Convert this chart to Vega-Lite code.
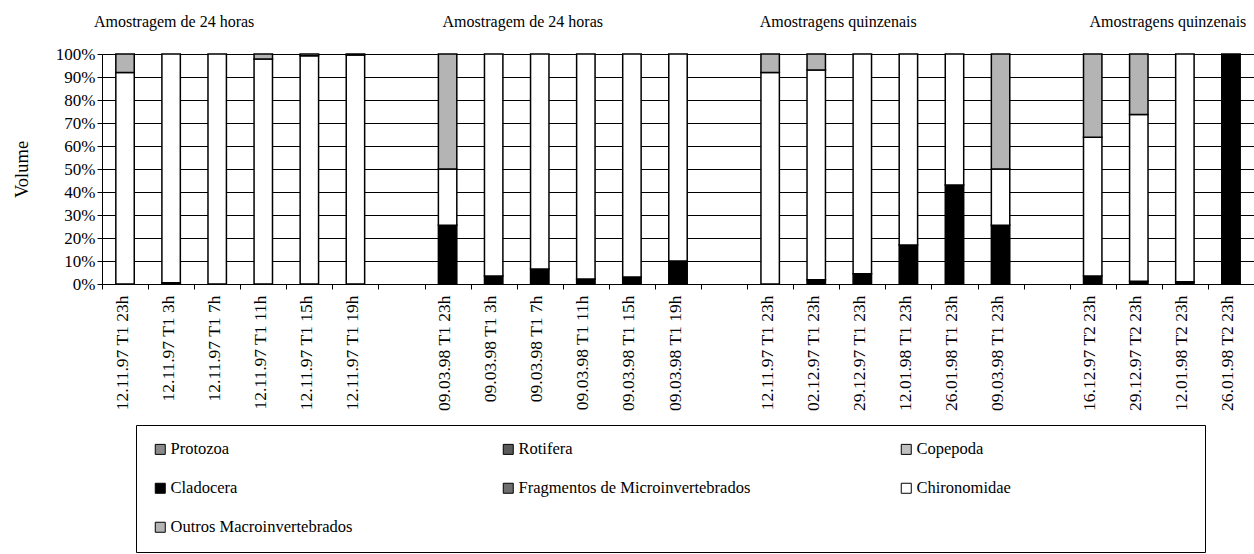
{
  "$schema": "https://vega.github.io/schema/vega-lite/v6.json",
  "autosize": {"type": "none"},
  "padding": {"left": 102, "top": 54, "right": 0, "bottom": 270},
  "width": 1152,
  "height": 230,
  "background": "white",
  "config": {
    "font": "Liberation Serif",
    "view": {"stroke": null},
    "axisY": {
      "format": ".0%",
      "titleFont": "Liberation Serif",
      "titleFontSize": 18.5,
      "titleFontWeight": "normal",
      "titleColor": "black",
      "titlePadding": 24,
      "labelFont": "Liberation Serif",
      "labelFontSize": 17,
      "labelColor": "black",
      "labelPadding": 2,
      "labelFlush": false,
      "labelOverlap": false,
      "tickColor": "black",
      "tickSize": 5,
      "domainColor": "black",
      "grid": true,
      "gridColor": "black",
      "gridWidth": 1,
      "gridOpacity": 1
    }
  },
  "resolve": {"scale": {"y": "independent"}, "axis": {"y": "independent"}},
  "datasets": {
    "volume": [
      {"amostra": "12.11.97 T1 23h", "taxon": "Chironomidae", "serie": 6, "volume": 92},
      {"amostra": "12.11.97 T1 23h", "taxon": "Outros Macroinvertebrados", "serie": 7, "volume": 8},
      {"amostra": "12.11.97 T1 3h", "taxon": "Cladocera", "serie": 4, "volume": 0.5},
      {"amostra": "12.11.97 T1 3h", "taxon": "Chironomidae", "serie": 6, "volume": 99.5},
      {"amostra": "12.11.97 T1 7h", "taxon": "Chironomidae", "serie": 6, "volume": 100},
      {"amostra": "12.11.97 T1 11h", "taxon": "Chironomidae", "serie": 6, "volume": 97.8},
      {"amostra": "12.11.97 T1 11h", "taxon": "Outros Macroinvertebrados", "serie": 7, "volume": 2.2},
      {"amostra": "12.11.97 T1 15h", "taxon": "Chironomidae", "serie": 6, "volume": 99.2},
      {"amostra": "12.11.97 T1 15h", "taxon": "Outros Macroinvertebrados", "serie": 7, "volume": 0.8},
      {"amostra": "12.11.97 T1 19h", "taxon": "Chironomidae", "serie": 6, "volume": 99.6},
      {"amostra": "12.11.97 T1 19h", "taxon": "Outros Macroinvertebrados", "serie": 7, "volume": 0.4},
      {"amostra": "09.03.98 T1 23h", "taxon": "Cladocera", "serie": 4, "volume": 25.5},
      {"amostra": "09.03.98 T1 23h", "taxon": "Chironomidae", "serie": 6, "volume": 24.5},
      {"amostra": "09.03.98 T1 23h", "taxon": "Outros Macroinvertebrados", "serie": 7, "volume": 50},
      {"amostra": "09.03.98 T1 3h", "taxon": "Cladocera", "serie": 4, "volume": 3.5},
      {"amostra": "09.03.98 T1 3h", "taxon": "Chironomidae", "serie": 6, "volume": 96.5},
      {"amostra": "09.03.98 T1 7h", "taxon": "Cladocera", "serie": 4, "volume": 6.5},
      {"amostra": "09.03.98 T1 7h", "taxon": "Chironomidae", "serie": 6, "volume": 93.5},
      {"amostra": "09.03.98 T1 11h", "taxon": "Cladocera", "serie": 4, "volume": 2.2},
      {"amostra": "09.03.98 T1 11h", "taxon": "Chironomidae", "serie": 6, "volume": 97.8},
      {"amostra": "09.03.98 T1 15h", "taxon": "Cladocera", "serie": 4, "volume": 3},
      {"amostra": "09.03.98 T1 15h", "taxon": "Chironomidae", "serie": 6, "volume": 97},
      {"amostra": "09.03.98 T1 19h", "taxon": "Cladocera", "serie": 4, "volume": 10},
      {"amostra": "09.03.98 T1 19h", "taxon": "Chironomidae", "serie": 6, "volume": 90},
      {"amostra": "12.11.97 T1 23h ", "taxon": "Chironomidae", "serie": 6, "volume": 92},
      {"amostra": "12.11.97 T1 23h ", "taxon": "Outros Macroinvertebrados", "serie": 7, "volume": 8},
      {"amostra": "02.12.97 T1 23h", "taxon": "Cladocera", "serie": 4, "volume": 1.8},
      {"amostra": "02.12.97 T1 23h", "taxon": "Chironomidae", "serie": 6, "volume": 91.2},
      {"amostra": "02.12.97 T1 23h", "taxon": "Outros Macroinvertebrados", "serie": 7, "volume": 7},
      {"amostra": "29.12.97 T1 23h", "taxon": "Cladocera", "serie": 4, "volume": 4.5},
      {"amostra": "29.12.97 T1 23h", "taxon": "Chironomidae", "serie": 6, "volume": 95.5},
      {"amostra": "12.01.98 T1 23h", "taxon": "Cladocera", "serie": 4, "volume": 17},
      {"amostra": "12.01.98 T1 23h", "taxon": "Chironomidae", "serie": 6, "volume": 83},
      {"amostra": "26.01.98 T1 23h", "taxon": "Cladocera", "serie": 4, "volume": 43},
      {"amostra": "26.01.98 T1 23h", "taxon": "Chironomidae", "serie": 6, "volume": 57},
      {"amostra": "09.03.98 T1 23h ", "taxon": "Cladocera", "serie": 4, "volume": 25.5},
      {"amostra": "09.03.98 T1 23h ", "taxon": "Chironomidae", "serie": 6, "volume": 24.5},
      {"amostra": "09.03.98 T1 23h ", "taxon": "Outros Macroinvertebrados", "serie": 7, "volume": 50},
      {"amostra": "16.12.97 T2 23h", "taxon": "Cladocera", "serie": 4, "volume": 3.5},
      {"amostra": "16.12.97 T2 23h", "taxon": "Chironomidae", "serie": 6, "volume": 60.3},
      {"amostra": "16.12.97 T2 23h", "taxon": "Outros Macroinvertebrados", "serie": 7, "volume": 36.2},
      {"amostra": "29.12.97 T2 23h", "taxon": "Cladocera", "serie": 4, "volume": 1.2},
      {"amostra": "29.12.97 T2 23h", "taxon": "Chironomidae", "serie": 6, "volume": 72.5},
      {"amostra": "29.12.97 T2 23h", "taxon": "Outros Macroinvertebrados", "serie": 7, "volume": 26.3},
      {"amostra": "12.01.98 T2 23h", "taxon": "Cladocera", "serie": 4, "volume": 1},
      {"amostra": "12.01.98 T2 23h", "taxon": "Chironomidae", "serie": 6, "volume": 99},
      {"amostra": "26.01.98 T2 23h", "taxon": "Cladocera", "serie": 4, "volume": 100}
    ],
    "titulos": [
      {"amostra": "12.11.97 T1 3h", "titulo": "Amostragem de 24 horas"},
      {"amostra": "09.03.98 T1 7h", "titulo": "Amostragem de 24 horas"},
      {"amostra": "02.12.97 T1 23h", "titulo": "Amostragens quinzenais"},
      {"amostra": "12.01.98 T2 23h", "titulo": "Amostragens quinzenais"}
    ]
  },
  "encoding": {
    "x": {
      "field": "amostra",
      "type": "nominal",
      "title": null,
      "scale": {
        "domain": ["12.11.97 T1 23h", "12.11.97 T1 3h", "12.11.97 T1 7h", "12.11.97 T1 11h", "12.11.97 T1 15h", "12.11.97 T1 19h", "gap1",
                   "09.03.98 T1 23h", "09.03.98 T1 3h", "09.03.98 T1 7h", "09.03.98 T1 11h", "09.03.98 T1 15h", "09.03.98 T1 19h", "gap2",
                   "12.11.97 T1 23h ", "02.12.97 T1 23h", "29.12.97 T1 23h", "12.01.98 T1 23h", "26.01.98 T1 23h", "09.03.98 T1 23h ", "gap3",
                   "16.12.97 T2 23h", "29.12.97 T2 23h", "12.01.98 T2 23h", "26.01.98 T2 23h"],
        "paddingInner": 0,
        "paddingOuter": 0
      },
      "axis": {
        "labelAngle": 270,
        "labelFontSize": 17.5,
        "labelFont": "Liberation Serif",
        "labelColor": "black",
        "labelPadding": 6,
        "labelOffset": -3,
        "tickBand": "extent",
        "tickColor": "black",
        "tickSize": 5,
        "domainColor": "black",
        "labelExpr": "indexof(datum.label, 'gap') == 0 ? '' : trim(datum.label)",
        "labelOverlap": false,
        "labelLimit": 300,
        "grid": false
      }
    }
  },
  "layer": [
    {
      "data": {"name": "volume"},
      "mark": {"type": "bar", "stroke": "black", "strokeWidth": 1.5, "width": {"band": 0.4}},
      "encoding": {
        "y": {
          "field": "volume",
          "type": "quantitative",
          "stack": "normalize",
          "title": "Volume",
          "scale": {"domain": [0, 1], "nice": false},
          "axis": {"values": [0, 0.1, 0.2, 0.3, 0.4, 0.5, 0.6, 0.7, 0.8, 0.9, 1], "tickCount": 11}
        },
        "color": {
          "field": "taxon",
          "type": "nominal",
          "scale": {
            "domain": ["Protozoa", "Rotifera", "Copepoda", "Cladocera", "Fragmentos de Microinvertebrados", "Chironomidae", "Outros Macroinvertebrados"],
            "range": ["#8a8a8a", "#5a5a5a", "#c0c0c0", "#000000", "#6e6e6e", "#ffffff", "#b4b4b4"]
          },
          "legend": {
            "orient": "none",
            "legendX": 34,
            "legendY": 371,
            "direction": "horizontal",
            "columns": 3,
            "gridAlign": "each",
            "columnPadding": 147,
            "rowPadding": 22,
            "strokeColor": "black",
            "padding": 16,
            "title": null,
            "symbolType": "square",
            "symbolSize": 100,
            "symbolStrokeColor": "black",
            "symbolStrokeWidth": 1,
            "labelFont": "Liberation Serif",
            "labelFontSize": 16.5,
            "labelColor": "black",
            "labelOffset": 2,
            "labelLimit": 800,
            "labelExpr": "indexof(datum.label, 'Chiron') == 0 ? datum.label + '\u00a0\u00a0\u00a0\u00a0\u00a0\u00a0\u00a0\u00a0\u00a0\u00a0\u00a0\u00a0\u00a0\u00a0\u00a0\u00a0\u00a0\u00a0\u00a0\u00a0\u00a0\u00a0\u00a0\u00a0\u00a0\u00a0\u00a0\u00a0\u00a0\u00a0\u00a0\u00a0\u00a0\u00a0\u00a0\u00a0\u00a0\u00a0\u00a0\u00a0\u00a0\u00a0\u00a0\u200b' : datum.label"
          }
        },
        "order": {"field": "serie", "type": "quantitative", "sort": "ascending"}
      }
    },
    {
      "data": {"name": "titulos"},
      "transform": [{"filter": "datum.amostra == '12.11.97 T1 3h'"}],
      "mark": {"type": "text", "font": "Liberation Serif", "fontSize": 16, "baseline": "middle", "align": "center", "color": "black", "dx": 3},
      "encoding": {
        "y": {"datum": 1.14, "type": "quantitative", "scale": {"domain": [0, 1], "nice": false}, "axis": null},
        "text": {"field": "titulo"}
      }
    },
    {
      "data": {"name": "titulos"},
      "transform": [{"filter": "datum.amostra == '09.03.98 T1 7h'"}],
      "mark": {"type": "text", "font": "Liberation Serif", "fontSize": 16, "baseline": "middle", "align": "center", "color": "black", "dx": -17},
      "encoding": {
        "y": {"datum": 1.14, "type": "quantitative", "scale": {"domain": [0, 1], "nice": false}, "axis": null},
        "text": {"field": "titulo"}
      }
    },
    {
      "data": {"name": "titulos"},
      "transform": [{"filter": "datum.amostra == '02.12.97 T1 23h'"}],
      "mark": {"type": "text", "font": "Liberation Serif", "fontSize": 16, "baseline": "middle", "align": "center", "color": "black", "dx": 22},
      "encoding": {
        "y": {"datum": 1.14, "type": "quantitative", "scale": {"domain": [0, 1], "nice": false}, "axis": null},
        "text": {"field": "titulo"}
      }
    },
    {
      "data": {"name": "titulos"},
      "transform": [{"filter": "datum.amostra == '12.01.98 T2 23h'"}],
      "mark": {"type": "text", "font": "Liberation Serif", "fontSize": 16, "baseline": "middle", "align": "center", "color": "black", "dx": -17},
      "encoding": {
        "y": {"datum": 1.14, "type": "quantitative", "scale": {"domain": [0, 1], "nice": false}, "axis": null},
        "text": {"field": "titulo"}
      }
    }
  ]
}
